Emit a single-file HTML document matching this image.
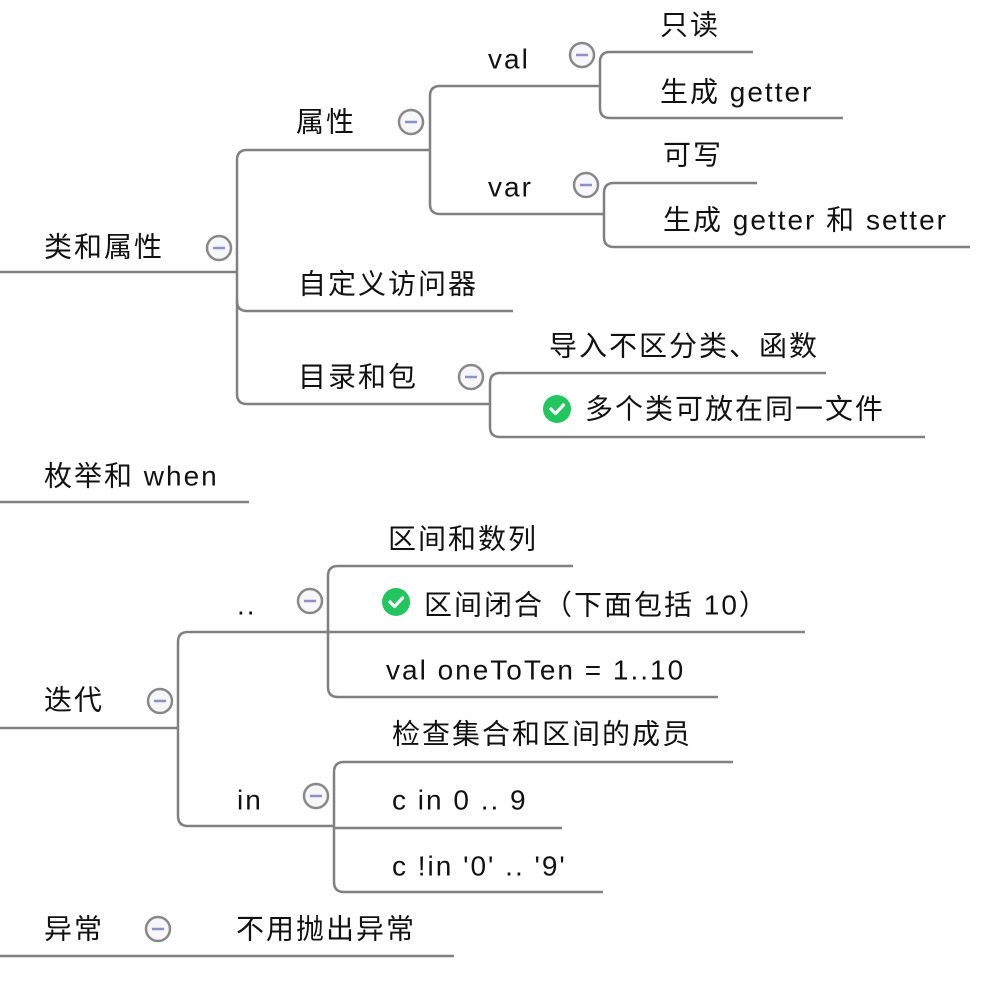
<!DOCTYPE html>
<html><head><meta charset="utf-8"><style>
html,body{margin:0;padding:0;background:#fff;}
svg{display:block;}
text{font-family:"Liberation Sans","Noto Sans CJK SC",sans-serif;font-size:28px;letter-spacing:2px;fill:#111;dominant-baseline:central;}
.l{fill:none;stroke:#808080;stroke-width:2.5;}
</style></head><body>
<svg width="988" height="984" viewBox="0 0 988 984" xmlns="http://www.w3.org/2000/svg">
<defs>
<g id="c"><circle r="12" fill="#f6f6f8" stroke="#888" stroke-width="2.5"/><line x1="-6" y1="0" x2="6" y2="0" stroke="#8a93c4" stroke-width="2.5"/></g>
<g id="k"><circle r="14" fill="#22c55e"/><path d="M-6 0 L-1.5 4.5 L6.5 -4" fill="none" stroke="#fff" stroke-width="3.2" stroke-linecap="round" stroke-linejoin="round"/></g>
</defs>
<path class="l" d="M0 272 H237"/>
<path class="l" d="M237 394 V160 Q237 150 247 150 H430"/>
<path class="l" d="M237 301 Q237 311 247 311 H513"/>
<path class="l" d="M237 394 Q237 404 247 404 H490"/>
<path class="l" d="M430 204 V96 Q430 86 440 86 H600"/>
<path class="l" d="M430 204 Q430 214 440 214 H604"/>
<path class="l" d="M600 108 V62 Q600 52 610 52 H753"/>
<path class="l" d="M600 108 Q600 118 610 118 H843"/>
<path class="l" d="M604 237 V193 Q604 183 614 183 H757"/>
<path class="l" d="M604 237 Q604 247 614 247 H970"/>
<path class="l" d="M490 427 V383 Q490 373 500 373 H826"/>
<path class="l" d="M490 427 Q490 437 500 437 H925"/>
<path class="l" d="M0 502 H249"/>
<path class="l" d="M0 728 H178"/>
<path class="l" d="M178 816 V642 Q178 632 188 632 H328"/>
<path class="l" d="M178 816 Q178 826 188 826 H334"/>
<path class="l" d="M328 687 V576 Q328 566 338 566 H573"/>
<path class="l" d="M328 632 H805"/>
<path class="l" d="M328 687 Q328 697 338 697 H718"/>
<path class="l" d="M334 882 V772 Q334 762 344 762 H733"/>
<path class="l" d="M334 828 H562"/>
<path class="l" d="M334 882 Q334 892 344 892 H603"/>
<path class="l" d="M0 956 H454"/>

<use href="#c" x="219" y="248"/>
<use href="#c" x="411" y="122"/>
<use href="#c" x="582" y="55"/>
<use href="#c" x="586" y="185"/>
<use href="#c" x="471" y="377"/>
<use href="#c" x="160" y="701"/>
<use href="#c" x="310" y="601"/>
<use href="#c" x="316" y="796"/>
<use href="#c" x="158" y="929"/>
<use href="#k" x="557" y="409"/>
<use href="#k" x="396" y="602"/>

<text x="44" y="247">类和属性</text>
<text x="296" y="122">属性</text>
<text x="488" y="59">val</text>
<text x="488" y="187">var</text>
<text x="660" y="25">只读</text>
<text x="660" y="92">生成 getter</text>
<text x="663" y="155">可写</text>
<text x="663" y="220">生成 getter 和 setter</text>
<text x="298" y="284">自定义访问器</text>
<text x="298" y="377">目录和包</text>
<text x="549" y="346">导入不区分类、函数</text>
<text x="585" y="409">多个类可放在同一文件</text>
<text x="44" y="476">枚举和 when</text>
<text x="44" y="700">迭代</text>
<text x="237" y="605">..</text>
<text x="388" y="539">区间和数列</text>
<text x="424" y="605">区间闭合（下面包括 10）</text>
<text x="386" y="670">val oneToTen = 1..10</text>
<text x="237" y="800">in</text>
<text x="392" y="734">检查集合和区间的成员</text>
<text x="392" y="800">c in 0 .. 9</text>
<text x="392" y="866">c !in '0' .. '9'</text>
<text x="44" y="929">异常</text>
<text x="236" y="929">不用抛出异常</text>
</svg>
</body></html>
